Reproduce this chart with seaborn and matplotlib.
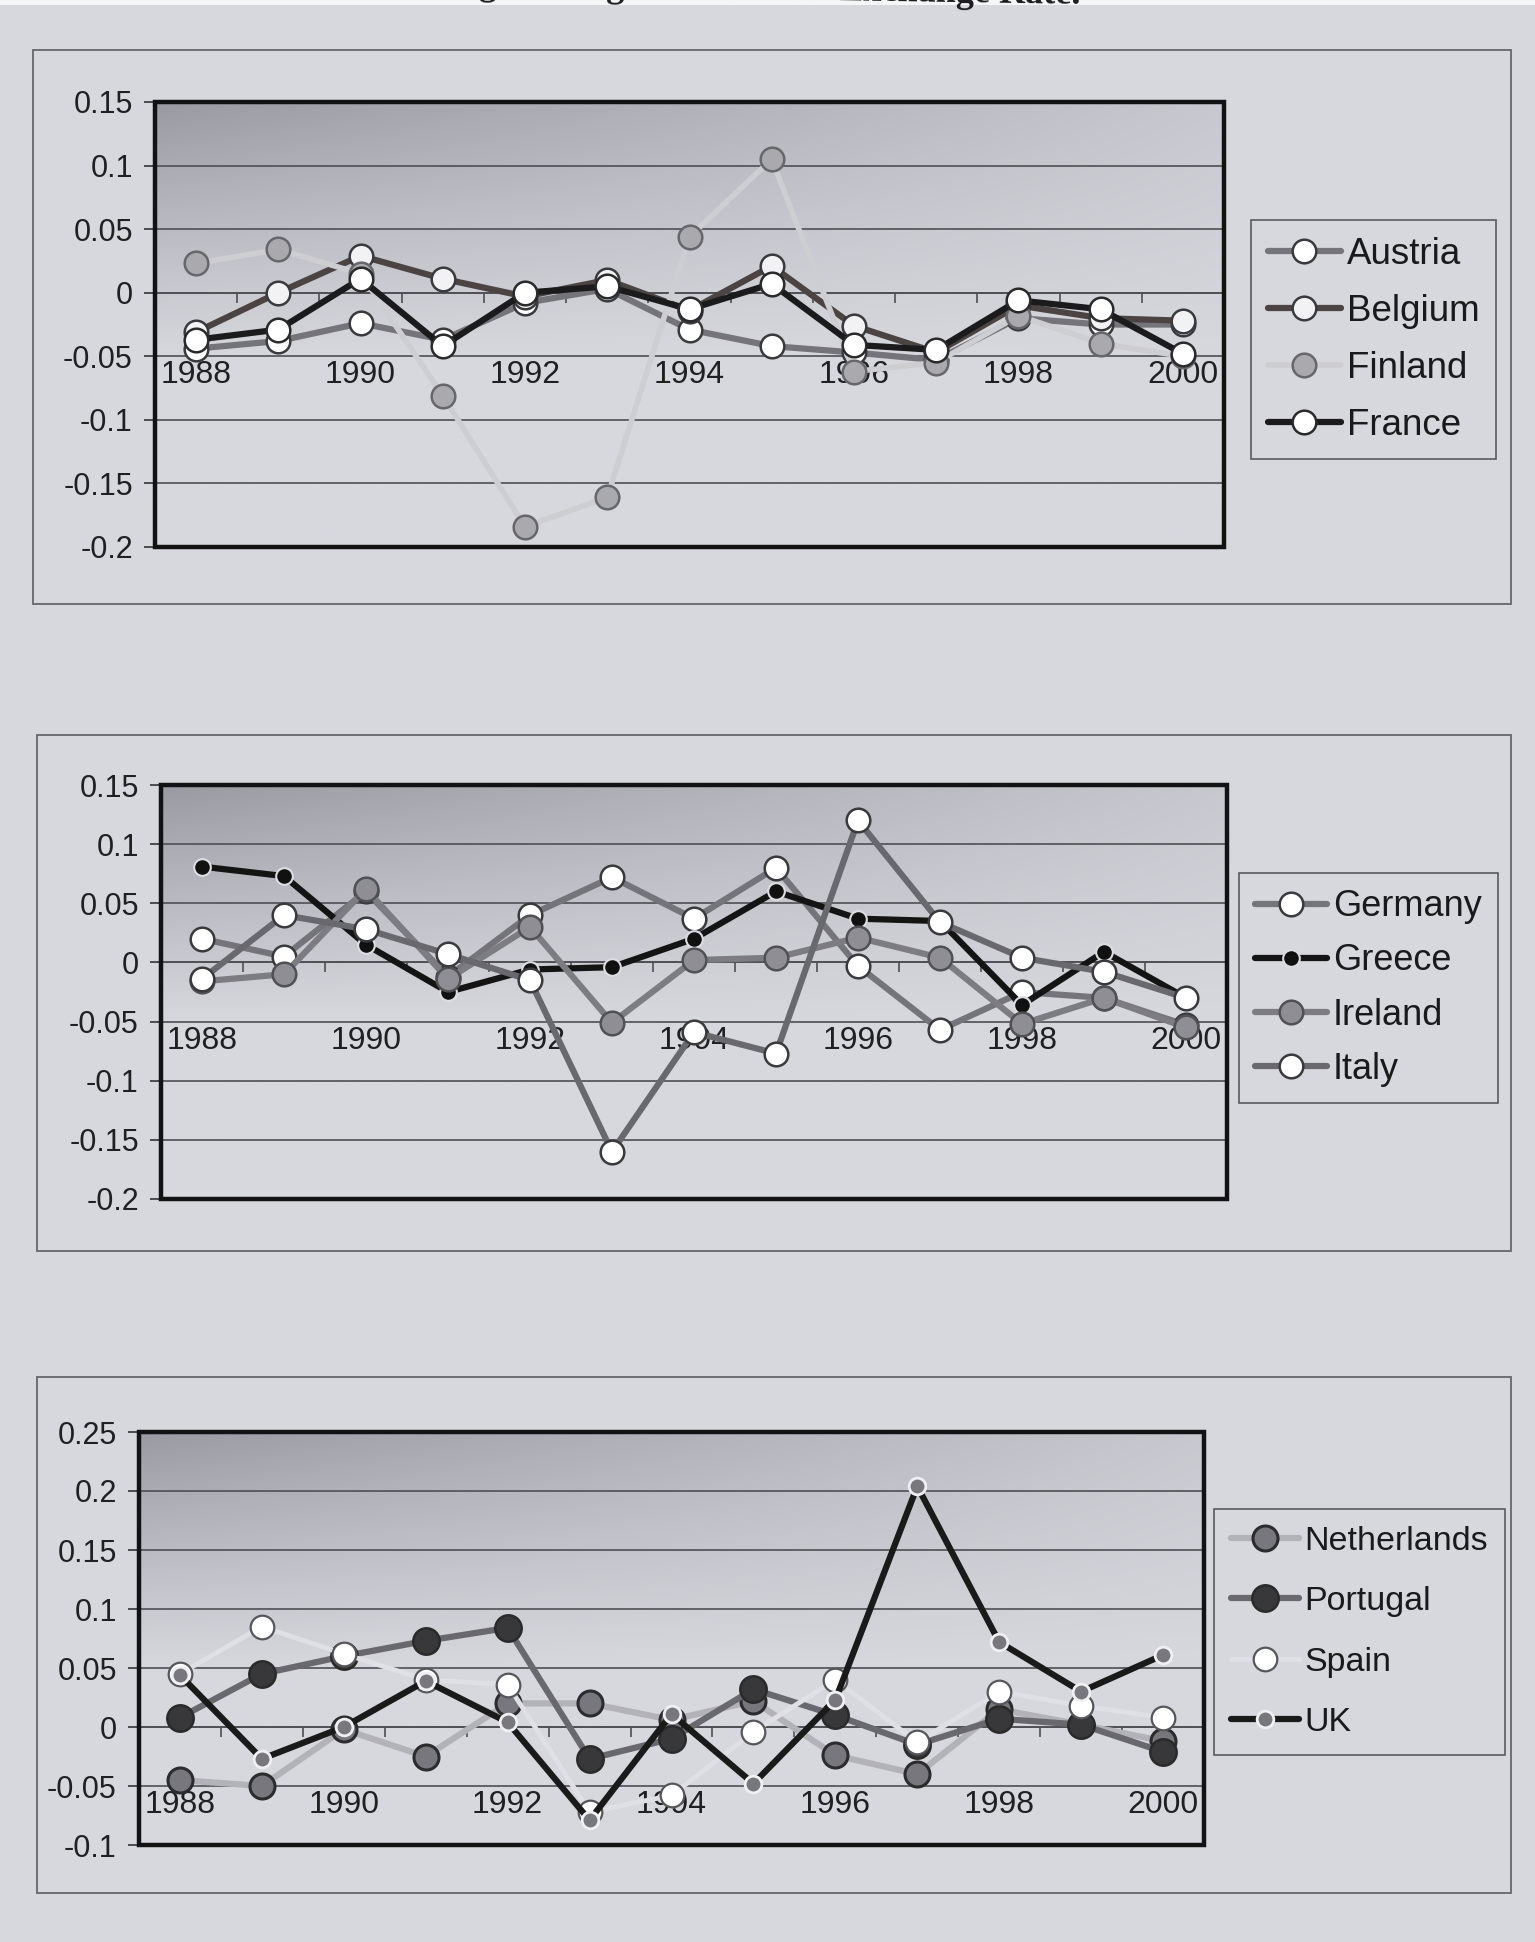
import numpy as np
import matplotlib
matplotlib.use("Agg")
import matplotlib.pyplot as plt
from matplotlib.patches import Rectangle
from matplotlib.colors import to_rgb
import seaborn as sns

# ---------------------------------------------------------------- data
years = [1988, 1989, 1990, 1991, 1992, 1993, 1994, 1995, 1996, 1997, 1998, 1999, 2000]
year_labels = ["1988", "1990", "1992", "1994", "1996", "1998", "2000"]

# panel 1
austria = [-0.044, -0.038, -0.024, -0.037, -0.008, 0.003, -0.029, -0.042, -0.047, -0.053, -0.020, -0.025, -0.025]
belgium = [-0.031, 0.000, 0.029, 0.011, -0.003, 0.010, -0.014, 0.021, -0.026, -0.047, -0.010, -0.020, -0.022]
finland = [0.023, 0.034, 0.015, -0.081, -0.184, -0.161, 0.044, 0.105, -0.062, -0.055, -0.018, -0.040, -0.050]
france = [-0.037, -0.029, 0.011, -0.042, 0.000, 0.005, -0.013, 0.007, -0.041, -0.045, -0.006, -0.013, -0.048]

# panel 2
germany = [0.020, 0.005, 0.060, -0.012, 0.040, 0.072, 0.037, 0.080, -0.003, -0.057, -0.025, -0.030, -0.053]
greece = [0.081, 0.073, 0.015, -0.025, -0.006, -0.004, 0.020, 0.060, 0.037, 0.035, -0.036, 0.009, -0.030]
ireland = [-0.016, -0.010, 0.062, -0.014, 0.030, -0.051, 0.002, 0.004, 0.021, 0.004, -0.052, -0.030, -0.055]
italy = [-0.014, 0.040, 0.028, 0.007, -0.015, -0.160, -0.059, -0.077, 0.120, 0.034, 0.004, -0.008, -0.030]

# panel 3
netherlands = [-0.045, -0.050, -0.002, -0.025, 0.020, 0.020, 0.006, 0.022, -0.024, -0.040, 0.015, 0.002, -0.012]
portugal = [0.008, 0.045, 0.060, 0.073, 0.084, -0.027, -0.010, 0.032, 0.010, -0.015, 0.007, 0.002, -0.021]
spain = [0.045, 0.085, 0.062, 0.040, 0.036, -0.072, -0.058, -0.004, 0.040, -0.013, 0.030, 0.018, 0.008]
uk = [0.044, -0.027, 0.000, 0.039, 0.004, -0.079, 0.011, -0.048, 0.023, 0.204, 0.072, 0.030, 0.061]

yticks_a = [-0.2, -0.15, -0.1, -0.05, 0.0, 0.05, 0.1, 0.15]
ylabels_a = ["-0.2", "-0.15", "-0.1", "-0.05", "0", "0.05", "0.1", "0.15"]
yticks_b = [-0.1, -0.05, 0.0, 0.05, 0.1, 0.15, 0.2, 0.25]
ylabels_b = ["-0.1", "-0.05", "0", "0.05", "0.1", "0.15", "0.2", "0.25"]

title_text = "Graph 2: Percentage Changes in the Real Exchange Rate."

# ---------------------------------------------------------------- style
sns.set_theme(style="white")
plt.rcParams["font.family"] = ["Liberation Sans", "DejaVu Sans"]

PAGE = "#d7d7de"
W, H = 1535, 1942
fig = plt.figure(figsize=(W / 100, H / 100), dpi=100, facecolor=PAGE)

# thin strip of paper along the top edge
fig.add_artist(Rectangle((0, 1 - 5 / H), 1, 5 / H, transform=fig.transFigure,
                         fc="#f6f6f8", ec="none", zorder=0))


def fig_rect(l, t, r, b):
    return [l / W, 1 - b / H, (r - l) / W, (b - t) / H]


def sty(line, face, edge, ms=17, lw=4.5, mew=1.8):
    return dict(line=line, face=face, edge=edge, ms=ms, lw=lw, mew=mew)


def draw_panel(box, plot, ylim, yticks, ylabels, series, leg_pos, leg_size,
               leg_spacing, leg_pad, handle_len):
    # outer chart frame
    l, t, r, b = box
    fig.add_artist(Rectangle((l / W, 1 - b / H), (r - l) / W, (b - t) / H,
                             transform=fig.transFigure, fill=False,
                             ec="#66666c", lw=1.3))
    ax = fig.add_axes(fig_rect(*plot))

    # shaded plot area, darkest in the upper left corner
    nx, ny = 300, 200
    X, Y = np.meshgrid(np.linspace(0, 1, nx), np.linspace(1, 0, ny))
    Z = np.clip((Y - 0.42) / 0.58, 0, 1) ** 1.1 * (1 - 0.75 * X)
    page = np.array(to_rgb(PAGE))
    dark = np.array(to_rgb("#9a9aa3"))
    img = page + (dark - page) * Z[..., None]
    ax.imshow(img, extent=[0, 1, 0, 1], transform=ax.transAxes,
              aspect="auto", zorder=0, interpolation="bilinear")

    handles, names = [], []
    x = np.arange(len(years))
    for name, vals, s in series:
        sns.lineplot(x=x, y=vals, ax=ax, color=s["line"], lw=s["lw"],
                     marker="o", markersize=s["ms"],
                     markerfacecolor=s["face"], markeredgecolor=s["edge"],
                     markeredgewidth=s["mew"], errorbar=None, zorder=3,
                     legend=False)
        handles.append(ax.lines[-1])
        names.append(name)

    ax.set_xlim(-0.5, len(years) - 0.5)
    ax.set_ylim(*ylim)
    ax.set_xlabel("")
    ax.set_ylabel("")
    ax.set_axisbelow(True)

    ax.yaxis.grid(True, color="#4e4e54", lw=1.2)
    ax.xaxis.grid(False)
    for sp in ["top", "left", "right"]:
        ax.spines[sp].set_visible(False)
    ax.spines["bottom"].set_position(("data", 0))
    ax.spines["bottom"].set_color("#4e4e54")
    ax.spines["bottom"].set_linewidth(1.2)
    ax.add_patch(Rectangle((0, 0), 1, 1, transform=ax.transAxes, fill=False,
                           ec="#121214", lw=3.2, zorder=5, clip_on=False))

    ax.set_yticks(yticks)
    ax.set_yticklabels(ylabels)
    ax.tick_params(axis="y", length=8, width=1.2, color="#333338",
                   labelsize=22, labelcolor="#202022", pad=8, left=True)

    # category labels sit just under the -0.05 grid line
    ax_h_px = (plot[3] - plot[1])
    pad_px = ax_h_px * 0.05 / (ylim[1] - ylim[0]) + 4
    ax.set_xticks(x[::2])
    ax.set_xticklabels(year_labels)
    ax.set_xticks(x[:-1] + 0.5, minor=True)
    ax.tick_params(axis="x", which="major", length=0, pad=pad_px * 0.72,
                   labelsize=23, labelcolor="#202022", bottom=True)
    ax.tick_params(axis="x", which="minor", length=7, width=1.2,
                   color="#4e4e54", direction="out", bottom=True)

    leg = ax.legend(handles, names, loc="upper left",
                    bbox_to_anchor=(leg_pos[0] / W, 1 - leg_pos[1] / H),
                    bbox_transform=fig.transFigure, fontsize=leg_size,
                    labelspacing=leg_spacing, borderpad=leg_pad,
                    handlelength=handle_len, handletextpad=0.15,
                    borderaxespad=0, fancybox=False, frameon=True)
    fr = leg.get_frame()
    fr.set_facecolor(PAGE)
    fr.set_edgecolor("#5a5a60")
    fr.set_linewidth(1.2)
    fr.set_alpha(1)
    for txt in leg.get_texts():
        txt.set_color("#1a1a1c")
    return ax


# ---------------------------------------------------------------- panels
panel1 = [
    ("Austria", austria, sty("#74747a", "#ffffff", "#3a3a3e")),
    ("Belgium", belgium, sty("#4c4343", "#f2f2f4", "#3a3a3e")),
    ("Finland", finland, sty("#cdcdd2", "#a9a9ae", "#66666c", lw=4)),
    ("France", france, sty("#1b1b1d", "#ffffff", "#2a2a2c")),
]
panel2 = [
    ("Germany", germany, sty("#74747a", "#ffffff", "#3a3a3e")),
    ("Greece", greece, sty("#141414", "#111111", "#dcdce2", ms=12, mew=1.5)),
    ("Ireland", ireland, sty("#7c7c82", "#8e8e94", "#505055")),
    ("Italy", italy, sty("#68686e", "#ffffff", "#3a3a3e")),
]
panel3 = [
    ("Netherlands", netherlands, sty("#b2b2b8", "#77777d", "#2c2c2e", ms=18, mew=2.2)),
    ("Portugal", portugal, sty("#68686e", "#38383b", "#2a2a2a", ms=19)),
    ("Spain", spain, sty("#dfdfe5", "#ffffff", "#56565c", ms=17, lw=3.5, mew=1.6)),
    ("UK", uk, sty("#1a1a1a", "#77777d", "#f0f0f4", ms=12, mew=2)),
]

draw_panel((33, 50, 1511, 604), (155, 102, 1224, 547), (-0.2, 0.15),
           yticks_a, ylabels_a, panel1, (1251, 220), 26.5, 0.6, 0.45, 2.0)
draw_panel((37, 735, 1511, 1251), (161, 785, 1227, 1199), (-0.2, 0.15),
           yticks_a, ylabels_a, panel2, (1239, 873), 26, 0.53, 0.45, 2.0)
draw_panel((37, 1377, 1511, 1893), (139, 1432, 1204, 1845), (-0.1, 0.25),
           yticks_b, ylabels_b, panel3, (1214, 1509), 24.5, 0.86, 0.5, 2.0)

# page heading, trimmed by the top edge of the sheet
fig.text(1080 / W, 1 - 4 / H, title_text, ha="right", va="baseline",
         fontsize=26, fontweight="bold", color="#1c1c20",
         family=["Liberation Serif", "DejaVu Serif"],
         rotation=-0.9, rotation_mode="anchor")

fig.savefig("out.png", dpi=100, facecolor=fig.get_facecolor())
